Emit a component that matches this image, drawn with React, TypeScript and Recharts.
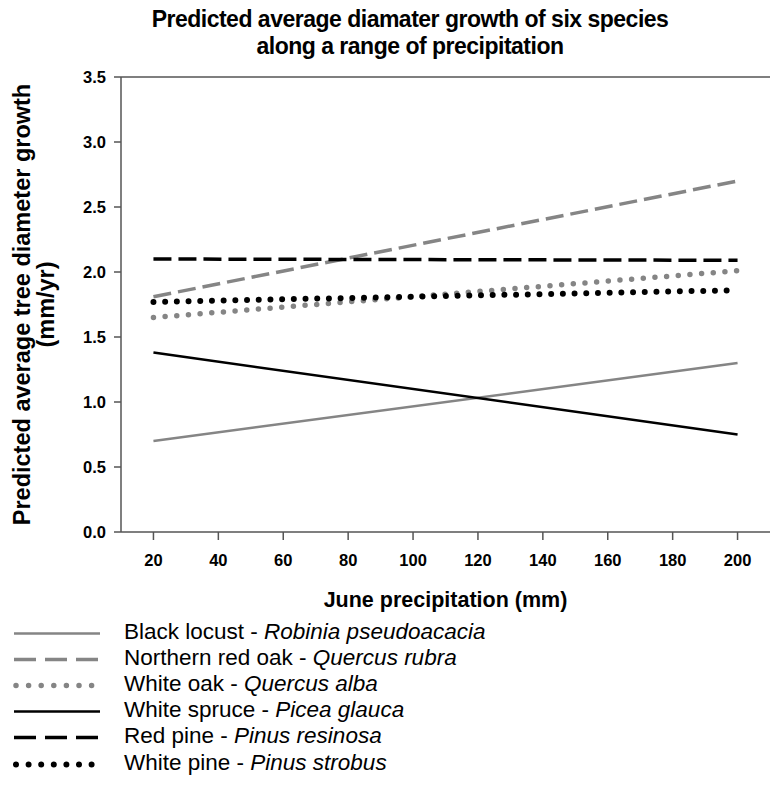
import React from 'react';
import { LineChart, Line, XAxis, YAxis, ReferenceLine } from 'recharts';

// June precipitation (mm) where the model lines are drawn
const precip = [20, 200];

// predicted growth (mm/yr) at the two ends of the range
const blackLocust = [0.7, 1.3];
const northernRedOak = [1.81, 2.7];
const whiteOak = [1.65, 2.01];
const whiteSpruce = [1.38, 0.75];
const redPine = [2.1, 2.09];
const whitePine = [1.77, 1.86];

const xTicks = [20, 40, 60, 80, 100, 120, 140, 160, 180, 200];
const yTicks = [0, 0.5, 1, 1.5, 2, 2.5, 3, 3.5];

const commonNames = ['Black locust', 'Northern red oak', 'White oak', 'White spruce', 'Red pine', 'White pine'];
const latinNames = ['Robinia pseudoacacia', 'Quercus rubra', 'Quercus alba', 'Picea glauca', 'Pinus resinosa', 'Pinus strobus'];

const FONT = '"Liberation Sans", Arial, sans-serif';
const GRAY = '#858585';

const series = [
  { key: 'bl', values: blackLocust, color: GRAY, width: 2.5, dash: undefined, cap: 'butt' },
  { key: 'ro', values: northernRedOak, color: GRAY, width: 3.5, dash: '18 7', cap: 'butt' },
  { key: 'wo', values: whiteOak, color: GRAY, width: 5.5, dash: '0 11.7', cap: 'round' },
  { key: 'ws', values: whiteSpruce, color: '#000', width: 2.5, dash: undefined, cap: 'butt' },
  { key: 'rp', values: redPine, color: '#000', width: 3.5, dash: '18 7', cap: 'butt' },
  { key: 'wp', values: whitePine, color: '#000', width: 6, dash: '0 11.7', cap: 'round' },
];

const legendDash = ['', '22 9', '0 12.6', '', '22 9', '0 12.6'];

const data = precip.map((p, i) => {
  const row: any = { x: p };
  series.forEach(s => { row[s.key] = s.values[i]; });
  return row;
});

const tickStyle = { fontFamily: FONT, fontWeight: 700, fontSize: 16.5, fill: '#000' };

const YLabel = (props: any) => {
  const { viewBox } = props;
  const cy = viewBox.y + viewBox.height / 2;
  return (
    <text
      transform={`translate(0, ${cy}) rotate(-90)`}
      textAnchor="middle"
      style={{ fontFamily: FONT, fontWeight: 700, fontSize: 23.5 }}
      fill="#000"
    >
      <tspan x={0} y={30}>Predicted average tree diameter growth</tspan>
      <tspan x={0} y={54}>(mm/yr)</tspan>
    </text>
  );
};

export default function App() {
  return (
    <div style={{ position: 'absolute', left: 0, top: 0, width: 772, height: 788, background: '#fff', fontFamily: FONT }}>
      <div style={{ position: 'absolute', left: 0, top: 6, width: 820, textAlign: 'center', fontWeight: 700, fontSize: 23, letterSpacing: -0.5, lineHeight: '27px', color: '#000' }}>
        Predicted average diamater growth of six species<br />along a range of precipitation
      </div>
      <LineChart width={772} height={620} data={data} margin={{ top: 77, right: 2, left: 0, bottom: 0 }}>
        <XAxis
          dataKey="x"
          type="number"
          domain={[10, 210]}
          ticks={xTicks}
          tick={tickStyle}
          tickSize={8}
          tickMargin={14}
          stroke="#555"
          strokeWidth={1.5}
          height={88}
          label={{ value: 'June precipitation (mm)', position: 'insideBottom', offset: 13, style: { fontFamily: FONT, fontWeight: 700, fontSize: 21.5, fill: '#000' } }}
        />
        <YAxis
          type="number"
          domain={[0, 3.5]}
          ticks={yTicks}
          tick={tickStyle}
          tickFormatter={(v: number) => v.toFixed(1)}
          tickSize={7}
          tickMargin={8}
          stroke="#555"
          strokeWidth={1.5}
          width={121}
          label={<YLabel />}
        />
        <ReferenceLine y={3.5} stroke="#555" strokeWidth={1.5} ifOverflow="extendDomain" />
        {series.map(s => (
          <Line
            key={s.key}
            dataKey={s.key}
            type="linear"
            stroke={s.color}
            strokeWidth={s.width}
            strokeDasharray={s.dash}
            strokeLinecap={s.cap as any}
            dot={false}
            activeDot={false}
            isAnimationActive={false}
          />
        ))}
      </LineChart>
      {series.map((s, i) => (
        <div key={s.key} style={{ position: 'absolute', left: 0, top: 618.5 + i * 26.2, height: 26, width: 772 }}>
          <svg width={110} height={26} style={{ position: 'absolute', left: 0, top: 0 }}>
            <line
              x1={s.dash && s.cap === 'round' ? 16 : 14}
              x2={s.dash && s.cap === 'round' ? 92 : 100}
              y1={14.5}
              y2={14.5}
              stroke={s.color}
              strokeWidth={s.width}
              strokeDasharray={legendDash[i] || undefined}
              strokeLinecap={s.cap as any}
            />
          </svg>
          <div style={{ position: 'absolute', left: 124, top: 0, fontSize: 22.5, lineHeight: '26px', color: '#000', whiteSpace: 'nowrap' }}>
            {commonNames[i]} - <i>{latinNames[i]}</i>
          </div>
        </div>
      ))}
    </div>
  );
}
